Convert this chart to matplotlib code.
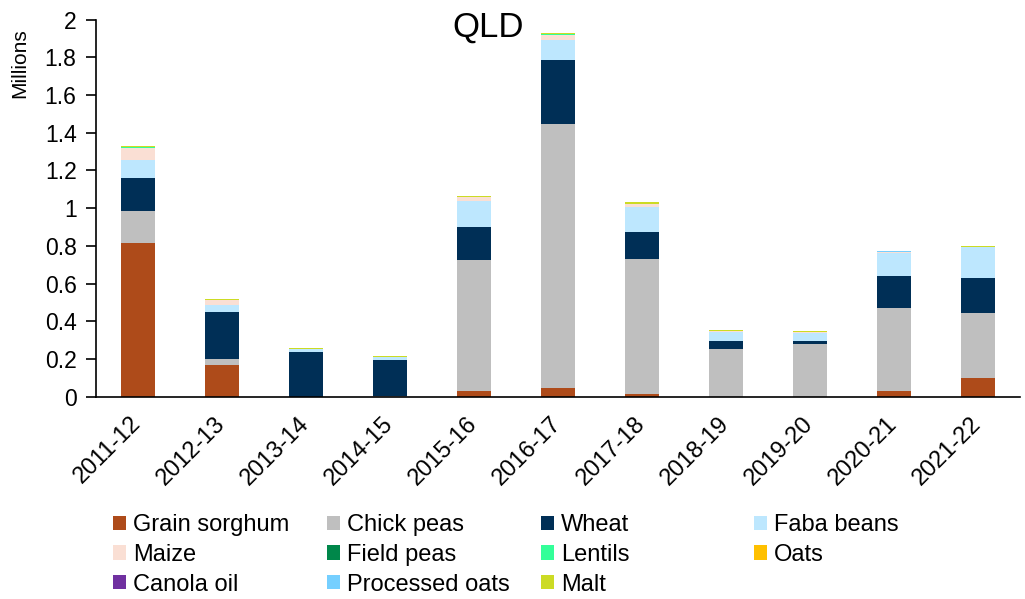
import matplotlib.pyplot as plt
import numpy as np

plt.rcParams['font.family'] = ['Liberation Sans', 'DejaVu Sans']

years = ["2011-12", "2012-13", "2013-14", "2014-15", "2015-16", "2016-17",
         "2017-18", "2018-19", "2019-20", "2020-21", "2021-22"]

# values in millions (stack order bottom -> top)
grain_sorghum = [0.817, 0.168, 0, 0, 0.029, 0.046, 0.014, 0, 0, 0.030, 0.098]
chick_peas = [0.168, 0.034, 0, 0.003, 0.698, 1.399, 0.718, 0.255, 0.281, 0.439, 0.344]
wheat = [0.174, 0.246, 0.236, 0.192, 0.172, 0.341, 0.143, 0.040, 0.013, 0.171, 0.189]
faba_beans = [0.097, 0.040, 0.017, 0.017, 0.141, 0.106, 0.133, 0.050, 0.046, 0.124, 0.162]
maize = [0.065, 0.025, 0.001, 0.001, 0.019, 0.027, 0.014, 0.003, 0.002, 0.002, 0.002]
field_peas = [0, 0, 0, 0, 0, 0, 0, 0, 0, 0, 0]
lentils = [0.005, 0, 0, 0, 0.001, 0.006, 0.002, 0, 0, 0.003, 0]
oats = [0, 0, 0, 0, 0, 0, 0, 0, 0, 0, 0]
canola_oil = [0, 0, 0, 0, 0, 0, 0, 0, 0, 0, 0]
processed_oats = [0, 0, 0, 0, 0, 0, 0, 0, 0, 0.004, 0]
malt = [0.001, 0.005, 0.004, 0.004, 0.005, 0.003, 0.006, 0.005, 0.005, 0.002, 0.006]

series = [
    ("Grain sorghum", grain_sorghum, "#AE4B1A"),
    ("Chick peas", chick_peas, "#BFBFBF"),
    ("Wheat", wheat, "#002F56"),
    ("Faba beans", faba_beans, "#BDE7FE"),
    ("Maize", maize, "#FADFD4"),
    ("Field peas", field_peas, "#00874A"),
    ("Lentils", lentils, "#33FF99"),
    ("Oats", oats, "#FFC000"),
    ("Canola oil", canola_oil, "#7030A0"),
    ("Processed oats", processed_oats, "#75CFFF"),
    ("Malt", malt, "#CCDB24"),
]

fig = plt.figure(figsize=(10.25, 5.99), dpi=100)
ax = fig.add_axes([0.0937, 0.3377, 0.9013, 0.6297])

x = np.arange(len(years))
bottom = np.zeros(len(years))
handles = []
for name, vals, col in series:
    b = ax.bar(x, vals, 0.4, bottom=bottom, color=col, label=name)
    handles.append(b)
    bottom += np.array(vals)

ax.set_xlim(-0.5, len(years) - 0.5)
ax.set_ylim(0, 2)
ax.set_yticks(np.arange(0, 2.01, 0.2))
ax.set_yticklabels(["0", "0.2", "0.4", "0.6", "0.8", "1", "1.2", "1.4", "1.6", "1.8", "2"])
ax.set_xticks(x)
ax.set_xticklabels(years, rotation=45, ha="right", va="center", rotation_mode="anchor")
ax.tick_params(axis="y", labelsize=16.5, length=7, width=1.2, direction="out", pad=7)
ax.tick_params(axis="x", labelsize=17, length=0, pad=17)
for s in ["top", "right"]:
    ax.spines[s].set_visible(False)
ax.spines["left"].set_linewidth(1.2)
ax.spines["bottom"].set_linewidth(1.2)

fig.text(488 / 1025, 1 - 27 / 599, "QLD", fontsize=25, ha="center", va="center")
fig.text(20 / 1025, 1 - 28 / 599, "Millions", fontsize=15, rotation=90, ha="center", va="top")

# legend laid out like Excel: 4 equal columns, filled row by row
col_x = [113, 327, 541, 754]
for c in range(4):
    idx = list(range(c, len(series), 4))
    fig.legend([handles[i] for i in idx], [series[i][0] for i in idx],
               loc="upper left", bbox_to_anchor=(col_x[c] / 1025, 1 - 514 / 599),
               frameon=False, fontsize=17, ncol=1, borderpad=0, borderaxespad=0,
               handlelength=0.55, handleheight=0.55, handletextpad=0.3,
               labelspacing=0.33)

fig.savefig("out.png", dpi=100)
